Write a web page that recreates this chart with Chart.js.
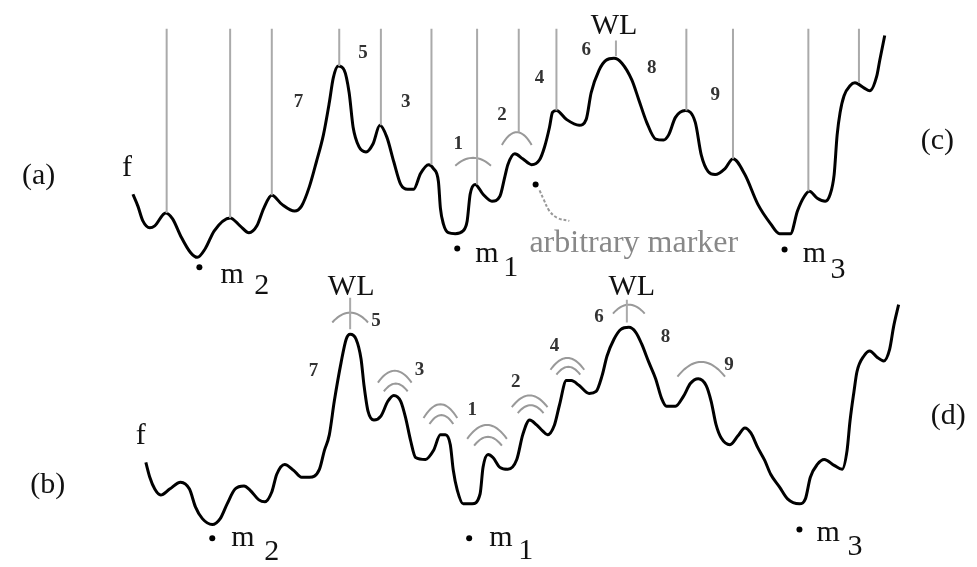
<!DOCTYPE html>
<html>
<head>
<meta charset="utf-8">
<script src="https://cdn.jsdelivr.net/npm/chart.js@4.4.1/dist/chart.umd.min.js"></script>
<style>
html,body{margin:0;padding:0;background:#fff;}
#wrap{width:977px;height:567px;position:relative;}
</style>
</head>
<body>
<div id="wrap"><canvas id="c" width="977" height="567"></canvas></div>
<script>
// ---- data (x position, f drawn downward in picture units) ----
const curveAx = [130,135,140,147,152,163,170,178,188,195,203,212,228,238,247,255,262,270,280,293,300,308,315,322,328,332,337,343,348,352,358,365,372,379,386,393,400,407,413,420,428,433,438,440,443,448,455,463,467,470,475,483,492,500,505,508,515,523,532,540,545,550,553,557,567,580,587,592,600,607,615,623,633,640,648,657,665,670,677,687,697,703,710,717,727,735,747,760,773,782,793,800,807,812,820,828,833,837,840,843,847,853,858,867,873,880,883,888];
const curveAy = [193,205,220,227,225,212,218,235,252,257,248,230,217,225,232,225,207,194,203,210,205,185,160,133,100,75,63,67,90,125,145,150,142,123,135,160,183,188,188,172,163,167,180,207,223,232,233,230,220,193,183,193,200,195,175,163,152,157,163,158,145,125,110,108,117,123,117,90,67,57,55,60,77,97,120,137,138,133,115,108,120,153,170,173,167,157,173,203,223,233,233,210,195,190,197,200,193,173,133,110,93,83,80,85,88,73,57,32];

const curveBx = [143,147,152,158,167,178,187,193,200,210,218,225,233,242,248,257,263,270,275,283,292,300,308,318,323,328,333,340,345,349,355,360,363,367,373,380,387,393,400,405,410,415,425,433,440,445,450,453,457,463,472,480,483,488,493,500,508,517,523,530,537,543,548,555,560,567,572,580,590,597,603,608,615,622,630,637,643,650,657,663,668,677,685,692,700,708,713,718,723,732,740,747,753,760,767,773,782,790,802,808,813,820,827,837,845,850,853,857,860,867,873,880,887,893,897,902];
const curveBy = [465,480,492,498,492,485,492,510,522,528,522,507,492,489,493,503,505,495,477,467,473,480,480,472,453,437,403,363,340,335,340,360,387,413,422,418,403,397,403,420,443,460,462,453,437,437,447,473,493,507,507,497,470,457,460,470,472,462,437,422,427,433,437,427,407,382,382,387,395,393,377,357,340,330,328,333,345,363,380,400,408,408,398,385,380,387,403,427,440,447,438,430,435,450,463,477,490,502,507,502,480,467,462,468,472,453,423,393,373,357,352,358,362,350,327,305];

// vertical guide lines of panel (a): x position and where they meet the curve
const guideX      = [164,228,270,338,380,431,477,519,557,688,735,811,862];
const guideBottom = [212,217,194, 63,123,163,183,130,108,108,157,190, 80];
const guideTop    = 25;

// short WL ticks: x, top, bottom
const wlTickX   = [617,349,628];
const wlTickTop = [37,298,300];
const wlTickBot = [53,330,323];

// gray bump arcs: centre x, top, half width, drop
const arcCx   = [473,517, 349, 394,395, 440,441, 487,488, 530,531, 568,569, 630, 703];
const arcTop  = [156,130, 313, 372,385, 406,417, 427,439, 397,407, 359,368, 305, 363];
const arcHalf = [ 18, 15,  18,  17, 12,  17, 12,  20, 14,  18, 13,  17, 12,  16,  24];
const arcDrop = [  8, 13,  10,  12,  8,  14,  9,  14,  9,  12,  8,  12,  8,   9,  15];

// minima markers and arbitrary marker
const dotX = [197,457,787,536, 210,469,802];
const dotY = [267,248,249,183, 542,542,533];
const leaderX = [540,544,550,558,570];
const leaderY = [189,198,210,217,220];

// labels
const bigText  = ['(a)','f','m','2','m','1','m','3','(c)', '(b)','f','m','2','m','1','m','3','(d)','WL','WL','WL'];
const bigX     = [ 35, 124,230,260,487,511,817,841,941,   44, 138,241,270,501,526,831,858,952, 615,350,633];
const bigY     = [175, 166,275,286,254,268,254,270,139,  488, 438,542,556,542,555,537,551,418,  22,287,287];
const numText  = ['7','5','3','1','2','4','6','8','9',  '5','7','3','1','2','4','6','8','9'];
const numX     = [297,362,405,458,502,540,587,653,717,  375,312,419,472,516,555,600,667,731];
const numY     = [100, 50,100,142,113, 75, 47, 65, 92,  322,372,371,412,383,347,318,338,366];
const noteText = ['arbitrary marker'];
const noteX    = [635];
const noteY    = [243];

// ---- build datasets ----
const pts = (xs, ys) => xs.map((x, i) => ({x, y: ys[i]}));
function segs(list) { const out = []; list.forEach((s, i) => { if (i) out.push({x: s[0].x, y: null}); out.push(...s); }); return out; }

const guideSegs = guideX.map((x, i) => [{x, y: guideTop}, {x, y: guideBottom[i]}])
  .concat(wlTickX.map((x, i) => [{x, y: wlTickTop[i]}, {x, y: wlTickBot[i]}]));
const arcSegs = arcCx.map((cx, i) => {
  const s = [];
  for (let k = -10; k <= 10; k++) { const t = k / 10; s.push({x: cx + t * arcHalf[i], y: arcTop[i] + arcDrop[i] * t * t}); }
  return s;
});

const serif = '"Liberation Serif","DejaVu Serif",serif';
const labelPlugin = {
  id: 'labels',
  afterDatasetsDraw(chart) {
    const {ctx, scales: {x, y}} = chart;
    ctx.save();
    ctx.textAlign = 'center'; ctx.textBaseline = 'middle';
    const draw = (t, xs, ys, font, color) => {
      ctx.font = font; ctx.fillStyle = color;
      t.forEach((s, i) => ctx.fillText(s, x.getPixelForValue(xs[i]), y.getPixelForValue(ys[i])));
    };
    draw(bigText, bigX, bigY, '30px ' + serif, '#111');
    draw(numText, numX, numY, 'bold 19px ' + serif, '#333');
    draw(noteText, noteX, noteY, '32px ' + serif, '#888');
    ctx.restore();
  }
};

new Chart(document.getElementById('c'), {
  type: 'scatter',
  data: {
    datasets: [
      {data: segs(guideSegs), showLine: true, spanGaps: false, borderColor: '#aaa', borderWidth: 2, pointRadius: 0},
      {data: segs(arcSegs), showLine: true, spanGaps: false, borderColor: '#999', borderWidth: 2, pointRadius: 0},
      {data: pts(leaderX, leaderY), showLine: true, borderColor: '#999', borderWidth: 2, borderDash: [3, 2], pointRadius: 0, tension: 0.4},
      {data: pts(curveAx, curveAy), showLine: true, borderColor: '#000', borderWidth: 3, pointRadius: 0, cubicInterpolationMode: 'monotone'},
      {data: pts(curveBx, curveBy), showLine: true, borderColor: '#000', borderWidth: 3, pointRadius: 0, cubicInterpolationMode: 'monotone'},
      {data: pts(dotX, dotY), showLine: false, pointRadius: 3, pointBackgroundColor: '#000', pointBorderWidth: 0}
    ]
  },
  options: {
    responsive: false, animation: false, devicePixelRatio: 1,
    layout: {padding: 0},
    plugins: {legend: {display: false}, tooltip: {enabled: false}},
    scales: {
      x: {type: 'linear', min: 0, max: 977, display: false},
      y: {type: 'linear', min: 0, max: 567, reverse: true, display: false}
    }
  },
  plugins: [labelPlugin]
});
</script>
</body>
</html>
